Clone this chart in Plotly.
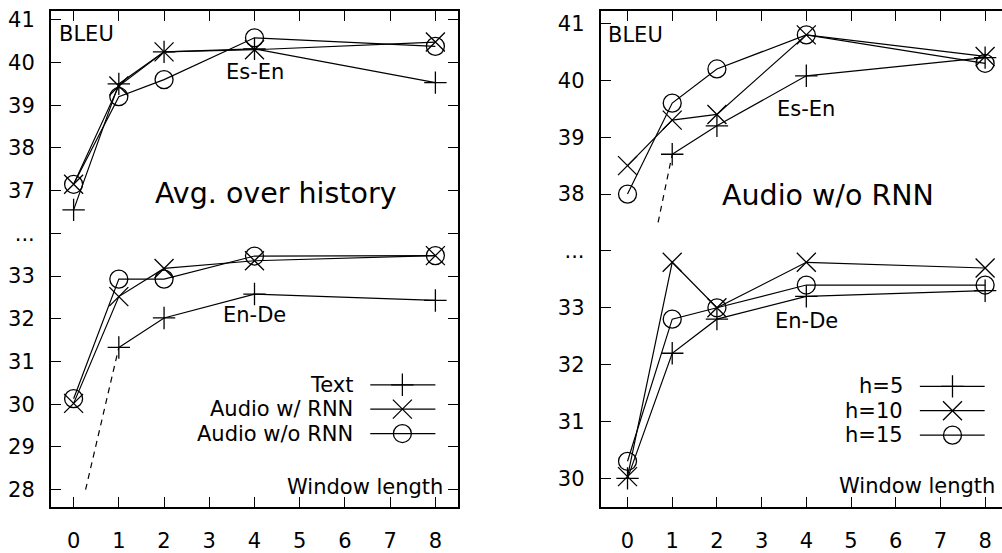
import plotly.graph_objects as go

# ---------------- data ----------------
window = [0, 1, 2, 4, 8]

# Left panel: Avg. over history
left_names = ["Text", "Audio w/ RNN", "Audio w/o RNN"]
left_esen = {
    "Text": [36.55, 39.50, 40.25, 40.32, 39.53],
    "Audio w/ RNN": [37.15, 39.45, 40.25, 40.30, 40.48],
    "Audio w/o RNN": [37.15, 39.20, 39.60, 40.58, 40.38],
}
left_ende = {
    "Text": [26.80, 31.33, 32.02, 32.58, 32.43],
    "Audio w/ RNN": [30.02, 32.52, 33.18, 33.36, 33.48],
    "Audio w/o RNN": [30.13, 32.93, 32.93, 33.47, 33.48],
}

# Right panel: Audio w/o RNN
right_names = ["h=5", "h=10", "h=15"]
right_esen = {
    "h=5": [34.90, 38.70, 39.20, 40.08, 40.40],
    "h=10": [38.50, 39.30, 39.40, 40.80, 40.42],
    "h=15": [38.00, 39.60, 40.20, 40.80, 40.30],
}
right_ende = {
    "h=5": [30.00, 32.20, 32.80, 33.20, 33.30],
    "h=10": [30.03, 33.80, 33.00, 33.80, 33.70],
    "h=15": [30.30, 32.80, 33.00, 33.40, 33.40],
}

left_ytext = ["28", "29", "30", "31", "32", "33", "...", "37", "38", "39", "40", "41"]
right_ytext = ["30", "31", "32", "33", "...", "38", "39", "40", "41"]
x_ticks = [0, 1, 2, 3, 4, 5, 6, 7, 8]

# ---------------- styling ----------------
FONT = "DejaVu Sans"
FS = 21
BIG = 28.5
SYMBOLS = ["cross-thin-open", "x-thin-open", "circle-open"]
SIZES = [16, 19, 18]
LW = 1.2

W, H = 1002, 553
fig = go.Figure()


def add_panel(xa, ya, names, esen, ende, upper_offset, break_pos, dashed_series,
              dashed_clip, legend_rows, yrange, labels):
    xref, yref = xa, ya
    for i, name in enumerate(names):
        for vals, off in ((esen[name], upper_offset), (ende[name], 0)):
            pos = [v - off for v in vals]
            start = 0
            out = (off != 0 and pos[0] < break_pos) or (off == 0 and vals[0] < yrange[0])
            if name == dashed_series and out:
                start = 1
                clip = dashed_clip
                t = (clip - pos[0]) / (pos[1] - pos[0])
                xc = window[0] + t * (window[1] - window[0])
                fig.add_trace(go.Scatter(
                    x=[xc, window[1]], y=[clip, pos[1]], mode="lines",
                    line=dict(color="black", width=LW, dash="6px,5px"),
                    xaxis=xref, yaxis=yref, showlegend=False, hoverinfo="skip"))
            fig.add_trace(go.Scatter(
                x=window[start:], y=pos[start:], mode="lines+markers",
                line=dict(color="black", width=LW),
                marker=dict(symbol=SYMBOLS[i], size=SIZES[i], color="black",
                            line=dict(color="black", width=1.3)),
                xaxis=xref, yaxis=yref, showlegend=False, hoverinfo="skip"))
        # manual gnuplot-style key
        ty, tx_text, kx0, kx1, kxm = legend_rows[i]
        fig.add_trace(go.Scatter(
            x=[kx0, kx1], y=[ty, ty], mode="lines",
            line=dict(color="black", width=LW),
            xaxis=xref, yaxis=yref, showlegend=False, hoverinfo="skip"))
        fig.add_trace(go.Scatter(
            x=[kxm], y=[ty], mode="markers",
            marker=dict(symbol=SYMBOLS[i], size=SIZES[i], color="black",
                        line=dict(color="black", width=1.3)),
            xaxis=xref, yaxis=yref, showlegend=False, hoverinfo="skip"))
        fig.add_annotation(x=tx_text, y=ty, xref=xref, yref=yref, text=name,
                           showarrow=False, xanchor="right", yanchor="middle",
                           font=dict(family=FONT, size=FS, color="black"))
    for (txt, x, y, anchor, size) in labels:
        fig.add_annotation(x=x, y=y, xref=xref, yref=yref, text=txt,
                           showarrow=False, xanchor=anchor, yanchor="middle",
                           font=dict(family=FONT, size=size, color="black"))


# left panel
L_yr = [27.603, 39.205]
left_rows = [
    (30.455, 6.22, 6.56, 8.0, 7.27),
    (29.885, 6.22, 6.56, 8.0, 7.27),
    (29.314, 6.22, 6.56, 8.0, 7.27),
]
add_panel("x", "y", left_names, left_esen, left_ende, 2, 34, "Text", 28.0,
          left_rows, L_yr,
          [("BLEU", -0.37, 38.66, "left", FS),
           ("Es-En", 4.0, 37.77, "center", FS),
           ("Avg. over history", 4.48, 34.93, "center", BIG),
           ("En-De", 4.0, 32.10, "center", FS),
           ("Window length", 8.21, 28.07, "right", FS)])

# right panel
R_yr = [29.503, 38.218]
right_rows = [
    (31.618, 6.20, 6.54, 7.99, 7.27),
    (31.190, 6.20, 6.54, 7.99, 7.27),
    (30.760, 6.20, 6.54, 7.99, 7.27),
]
add_panel("x2", "y2", right_names, right_esen, right_ende, 3, 34, "h=5", 34.5,
          right_rows, R_yr,
          [("BLEU", -0.485, 37.80, "left", FS),
           ("Es-En", 4.0, 36.50, "center", FS),
           ("Audio w/o RNN", 4.48, 34.98, "center", BIG),
           ("En-De", 4.0, 32.77, "center", FS),
           ("Window length", 8.26, 29.87, "right", FS)])

ydom = [36.3 / H, (H - 8.3) / H]
axis_common = dict(showgrid=False, zeroline=False, showline=True, linecolor="black",
                   linewidth=2, ticks="inside", ticklen=10, tickwidth=1,
                   tickcolor="black", tickfont=dict(family=FONT, size=FS, color="black"))

fig.update_layout(
    width=W, height=H,
    margin=dict(l=0, r=0, t=0, b=0),
    paper_bgcolor="white", plot_bgcolor="white",
    showlegend=False,
    xaxis=dict(domain=[51 / W, 458 / W], range=[-0.5, 8.5], tickvals=x_ticks,
               mirror="ticks", anchor="y", ticklabelstandoff=14, **axis_common),
    yaxis=dict(domain=ydom, range=L_yr, tickvals=list(range(28, 40)), ticktext=left_ytext,
               mirror="ticks", anchor="x", ticklabelstandoff=10, **axis_common),
    xaxis2=dict(domain=[600.7 / W, 1.0], range=[-0.6, -0.6 + (W - 600.7) / 44.7],
                tickvals=x_ticks, mirror="ticks", anchor="y2", ticklabelstandoff=14,
                **axis_common),
    yaxis2=dict(domain=ydom, range=R_yr, tickvals=list(range(30, 39)), ticktext=right_ytext,
                mirror=False, anchor="x2", ticklabelstandoff=10, **axis_common),
)

fig.write_html("out.html", config={"displayModeBar": False},
               post_script="document.body.style.margin='0';document.body.style.overflow='hidden';")
